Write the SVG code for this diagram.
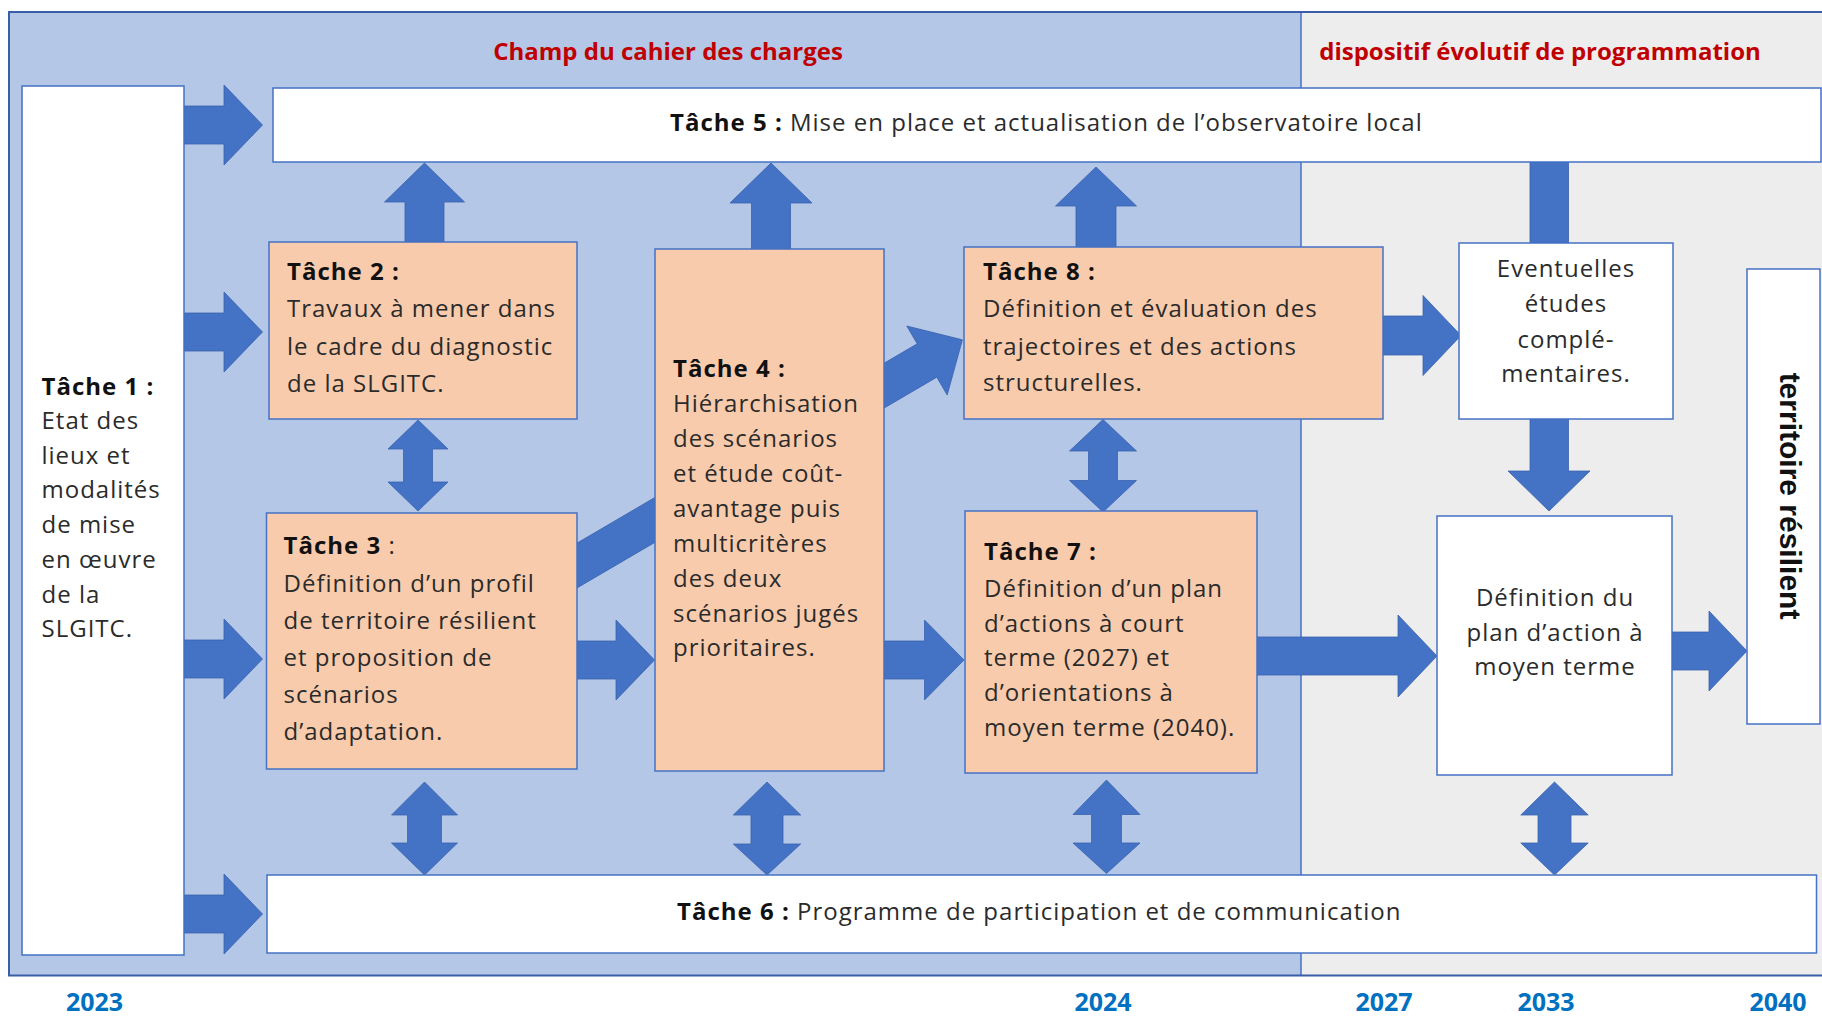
<svg xmlns="http://www.w3.org/2000/svg" width="1822" height="1016" viewBox="0 0 1822 1016">
<style>
.box{stroke:#4472C4;stroke-width:1.5}
.w{fill:#FFFFFF}
.o{fill:#F8CBAD}
.arr{fill:#4472C4;stroke:#3A62AE;stroke-width:0.8}
.t{font-family:"Open Sans","Noto Sans",sans-serif;font-size:24px;letter-spacing:1px;fill:#2B2B2B}
.b{font-weight:700;fill:#111111}
.red{font-family:"Open Sans","Noto Sans",sans-serif;font-size:24px;font-weight:700;fill:#C00000}
.yr{font-family:"Open Sans","Noto Sans",sans-serif;font-size:25px;font-weight:700;fill:#0070C0;text-anchor:middle}
.c{text-anchor:middle}
.v{font-family:"Liberation Sans",Arial,sans-serif;font-size:30px;font-weight:700;fill:#111111}
</style>
<rect width="1822" height="1016" fill="#FFFFFF"/>
<g id="background">
<rect x="9" y="12" width="1292" height="963.5" fill="#B4C7E7"/>
<rect x="1301" y="12" width="530" height="963.5" fill="#EDEDED"/>
<line x1="1301" y1="12" x2="1301" y2="975.5" stroke="#4472C4" stroke-width="1.5"/>
<rect x="9" y="12" width="1830" height="963.5" fill="none" stroke="#3A5DA8" stroke-width="2"/>
<text class="red c" x="668" y="60">Champ du cahier des charges</text>
<text class="red c" x="1540" y="60">dispositif évolutif de programmation</text>
</g>
<g id="connectors">
<polygon class="arr" points="184,106 224,106 224,85 262.5,125 224,165 224,144 184,144"/>
<polygon class="arr" points="184,313 224,313 224,292 262.5,332 224,372 224,351 184,351"/>
<polygon class="arr" points="184,640 224,640 224,619 262.5,659 224,699 224,678 184,678"/>
<polygon class="arr" points="184,895 224,895 224,874 262.5,914 224,954 224,933 184,933"/>
<polygon class="arr" points="577,641 616,641 616,620 654.5,660 616,700 616,679 577,679"/>
<polygon class="arr" points="884,641 924.5,641 924.5,620 964,660 924.5,700 924.5,679 884,679"/>
<polygon class="arr" points="1383,316 1423,316 1423,295.5 1461,335.5 1423,375.5 1423,355 1383,355"/>
<polygon class="arr" points="1257,637 1398,637 1398,615 1437,656 1398,697 1398,675 1257,675"/>
<polygon class="arr" points="1672,632 1709,632 1709,611 1747,651 1709,691 1709,670 1672,670"/>
<polygon class="arr" points="405,242 405,202 384.5,202 424.5,163 464.5,202 444,202 444,242"/>
<polygon class="arr" points="751.5,249 751.5,203 730,203 771,163 812,203 790.5,203 790.5,249"/>
<polygon class="arr" points="1076,247 1076,206 1055.5,206 1096,167 1136.5,206 1116,206 1116,247"/>
<rect class="arr" x="1530" y="162" width="38.5" height="81"/>
<polygon class="arr" points="1530,419 1568.5,419 1568.5,471 1590,471 1549,511 1508,471 1530,471"/>
<polygon class="arr" points="418,420 448,449 432.5,449 432.5,482 448,482 418,511 388,482 403.5,482 403.5,449 388,449"/>
<polygon class="arr" points="1103,419.5 1136.5,451 1117.5,451 1117.5,480.5 1136.5,480.5 1103,512 1069.5,480.5 1088.5,480.5 1088.5,451 1069.5,451"/>
<polygon class="arr" points="424.5,782 457.5,815 441.5,815 441.5,843 457.5,843 424.5,875 391.5,843 407.5,843 407.5,815 391.5,815"/>
<polygon class="arr" points="767,782 800.7,815 783,815 783,844 800.7,844 767,875 733.3,844 751,844 751,815 733.3,815"/>
<polygon class="arr" points="1106.5,780 1140,814.5 1121.5,814.5 1121.5,843 1140,843 1106.5,873.5 1073,843 1091.5,843 1091.5,814.5 1073,814.5"/>
<polygon class="arr" points="1554.5,782 1588.2,815 1571,815 1571,843 1588.2,843 1554.5,875 1520.8,843 1538,843 1538,815 1520.8,815"/>
<polygon class="arr" points="569.8,592.2 936.8,377.2 947.2,395 962.4,339.8 906.8,326 917.2,343.8 550.2,558.8"/>
</g>
<g id="tache1">
<rect class="box w" x="22" y="86" width="162" height="869"/>
<text class="t" x="41.5"><tspan class="b" x="41.5" y="395">Tâche 1 :</tspan><tspan x="41.5" y="429">Etat des</tspan><tspan x="41.5" y="463.5">lieux et</tspan><tspan x="41.5" y="498">modalités</tspan><tspan x="41.5" y="533">de mise</tspan><tspan x="41.5" y="568">en œuvre</tspan><tspan x="41.5" y="602.5">de la</tspan><tspan x="41.5" y="637">SLGITC.</tspan></text>
</g>
<g id="tache5">
<rect class="box w" x="273" y="88" width="1548" height="74"/>
<text class="t" x="670" y="131"><tspan class="b">Tâche 5 :</tspan> Mise en place et actualisation de l’observatoire local</text>
</g>
<g id="tache2">
<rect class="box o" x="269" y="242" width="308" height="177"/>
<text class="t"><tspan class="b" x="287" y="280">Tâche 2 :</tspan><tspan x="287" y="317">Travaux à mener dans</tspan><tspan x="287" y="354.5">le cadre du diagnostic</tspan><tspan x="287" y="392">de la SLGITC.</tspan></text>
</g>
<g id="tache3">
<rect class="box o" x="266.5" y="513" width="310.5" height="256"/>
<text class="t"><tspan class="b" x="283.5" y="554">Tâche 3</tspan> :<tspan x="283.5" y="591.5">Définition d’un profil</tspan><tspan x="283.5" y="629">de territoire résilient</tspan><tspan x="283.5" y="666">et proposition de</tspan><tspan x="283.5" y="703">scénarios</tspan><tspan x="283.5" y="740">d’adaptation.</tspan></text>
</g>
<g id="tache4">
<rect class="box o" x="655" y="249" width="229" height="522"/>
<text class="t"><tspan class="b" x="673" y="377">Tâche 4 :</tspan><tspan x="673" y="412">Hiérarchisation</tspan><tspan x="673" y="447">des scénarios</tspan><tspan x="673" y="482">et étude coût-</tspan><tspan x="673" y="517">avantage puis</tspan><tspan x="673" y="551.5">multicritères</tspan><tspan x="673" y="586.5">des deux</tspan><tspan x="673" y="621.5">scénarios jugés</tspan><tspan x="673" y="656">prioritaires.</tspan></text>
</g>
<g id="tache8">
<rect class="box o" x="964" y="247" width="419" height="172"/>
<text class="t"><tspan class="b" x="983" y="280">Tâche 8 :</tspan><tspan x="983" y="317">Définition et évaluation des</tspan><tspan x="983" y="354.5">trajectoires et des actions</tspan><tspan x="983" y="391">structurelles.</tspan></text>
</g>
<g id="tache7">
<rect class="box o" x="965" y="511" width="292" height="262"/>
<text class="t"><tspan class="b" x="984" y="560">Tâche 7 :</tspan><tspan x="984" y="596.5">Définition d’un plan</tspan><tspan x="984" y="631.5">d’actions à court</tspan><tspan x="984" y="666">terme (2027) et</tspan><tspan x="984" y="701">d’orientations à</tspan><tspan x="984" y="736">moyen terme (2040).</tspan></text>
</g>
<g id="etudes">
<rect class="box w" x="1459" y="243" width="214" height="176"/>
<text class="t c"><tspan x="1566" y="277">Eventuelles</tspan><tspan x="1566" y="312">études</tspan><tspan x="1566" y="347.5">complé-</tspan><tspan x="1566" y="382">mentaires.</tspan></text>
</g>
<g id="plan-moyen-terme">
<rect class="box w" x="1437" y="516" width="235" height="259"/>
<text class="t c"><tspan x="1555" y="606">Définition du</tspan><tspan x="1555" y="640.5">plan d’action à</tspan><tspan x="1555" y="675">moyen terme</tspan></text>
</g>
<g id="territoire">
<rect class="box w" x="1747" y="269" width="73" height="455"/>
<text class="v c" transform="translate(1780,496) rotate(90)">territoire résilient</text>
</g>
<g id="tache6">
<rect class="box w" x="267" y="875" width="1549.5" height="78"/>
<text class="t" x="677" y="920"><tspan class="b">Tâche 6 :</tspan> Programme de participation et de communication</text>
</g>
<g id="years">
<text class="yr" x="94.5" y="1011">2023</text>
<text class="yr" x="1103" y="1011">2024</text>
<text class="yr" x="1384" y="1011">2027</text>
<text class="yr" x="1546" y="1011">2033</text>
<text class="yr" x="1778" y="1011">2040</text>
</g>
</svg>
